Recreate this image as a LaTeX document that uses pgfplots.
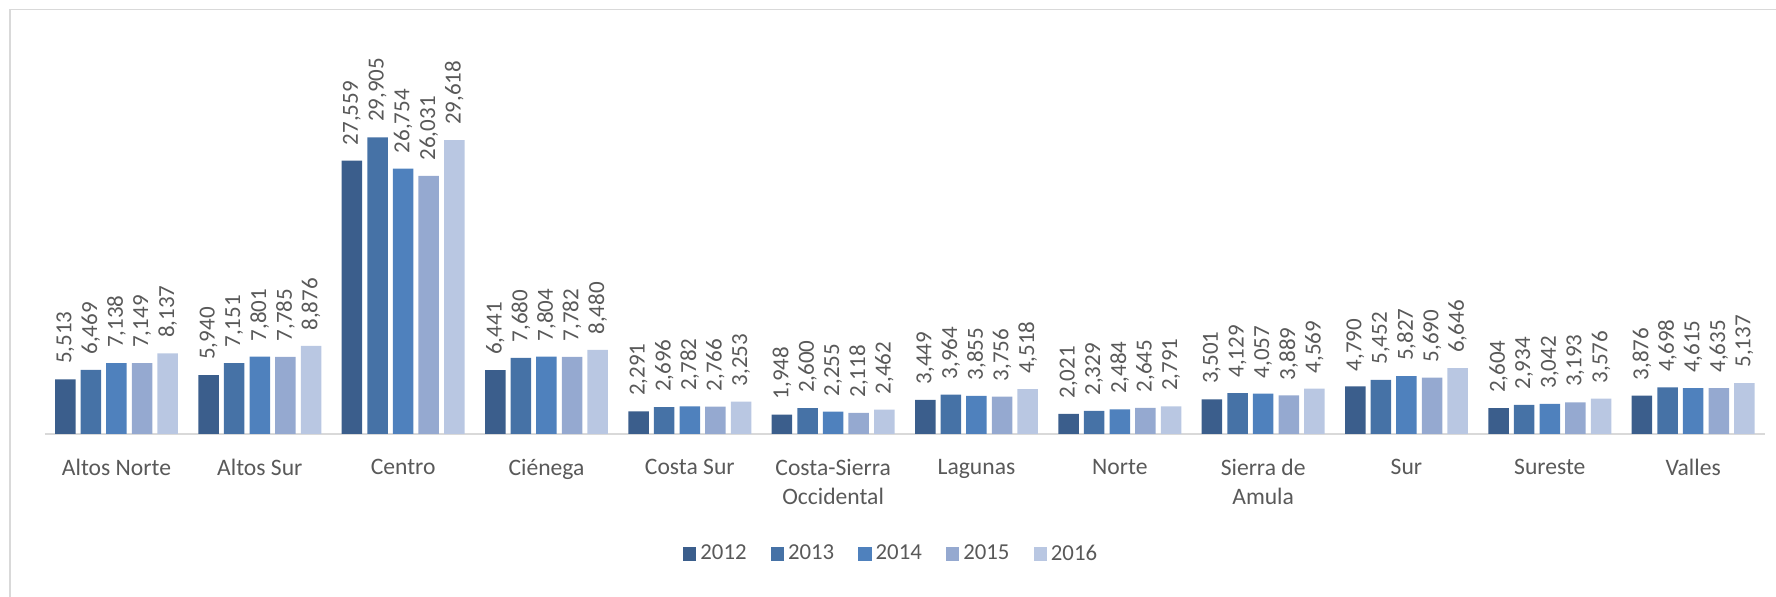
\documentclass[border=0pt]{standalone}
\usepackage{fontspec}
\setmainfont{Carlito}
\usepackage{pgfplots}
\usepackage{pgfplotstable}
\pgfplotsset{compat=1.18}

\definecolor{cA}{HTML}{3B5E8C}
\definecolor{cB}{HTML}{4672A6}
\definecolor{cC}{HTML}{4F81BD}
\definecolor{cD}{HTML}{95A9D0}
\definecolor{cE}{HTML}{B9C7E2}
\definecolor{txt}{HTML}{595959}
\definecolor{lin}{HTML}{D9D9D9}

% region index, then one column per year
\pgfplotstableread{
idx  a2012  a2013  a2014  a2015  a2016
0    5513   6469   7138   7149   8137
1    5940   7151   7801   7785   8876
2    27559  29905  26754  26031  29618
3    6441   7680   7804   7782   8480
4    2291   2696   2782   2766   3253
5    1948   2600   2255   2118   2462
6    3449   3964   3855   3756   4518
7    2021   2329   2484   2645   2791
8    3501   4129   4057   3889   4569
9    4790   5452   5827   5690   6646
10   2604   2934   3042   3193   3576
11   3876   4698   4615   4635   5137
}\regiones

\begin{document}
\begin{tikzpicture}
\path[use as bounding box] (-22.4pt,-81.5pt) rectangle (865.6pt,217pt);
\begin{axis}[
    at={(0,0)}, anchor=south west,
    scale only axis,
    width=860pt, height=198.4pt,
    xmin=-0.5, xmax=11.5, ymin=0, ymax=40000,
    ybar=2.55pt, bar width=10.25pt,
    axis y line=none,
    axis x line=bottom,
    x axis line style={-, draw=lin, line width=1pt},
    xtick={0,...,11},
    xticklabels={Altos Norte, Altos Sur, Centro, Ciénega, Costa Sur,
        {Costa-Sierra\\Occidental}, Lagunas, Norte, {Sierra de\\Amula},
        Sur, Sureste, Valles},
    xticklabel style={font=\fontsize{11.8}{14.5}\selectfont, text=txt,
        align=center, anchor=north, yshift=-9pt},
    major tick length=0pt,
    /pgf/number format/.cd, 1000 sep={,}, assume math mode=true,
    /pgfplots/.cd,
    nodes near coords,
    nodes near coords style={rotate=90, anchor=west, inner xsep=7.5pt,
        inner ysep=0pt, text=txt, font=\fontsize{11.5}{13}\selectfont},
    clip=false,
    legend columns=5,
    legend style={draw=none, fill=none, at={(0.4926,-0.3024)}, anchor=center,
        font=\fontsize{11.4}{13}\selectfont, text=txt,
        /tikz/every even column/.append style={column sep=10pt}},
    legend image code/.code={\fill[#1] (0pt,-3.35pt) rectangle (6.7pt,3.35pt);},
]
\addplot[fill=cA, draw=none] table[x=idx, y=a2012] {\regiones};
\addplot[fill=cB, draw=none] table[x=idx, y=a2013] {\regiones};
\addplot[fill=cC, draw=none] table[x=idx, y=a2014] {\regiones};
\addplot[fill=cD, draw=none] table[x=idx, y=a2015] {\regiones};
\addplot[fill=cE, draw=none] table[x=idx, y=a2016] {\regiones};
\legend{2012,2013,2014,2015,2016}
\end{axis}
\draw[lin, line width=0.75pt] (-17.4pt,-81.5pt) -- (-17.4pt,212.25pt) -- (865.6pt,212.25pt);
\end{tikzpicture}
\end{document}
